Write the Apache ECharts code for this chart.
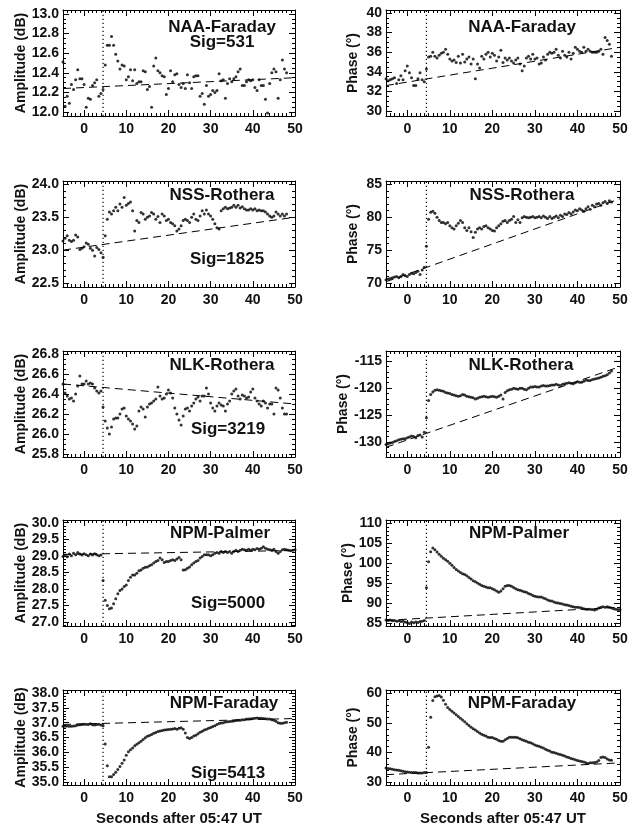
<!DOCTYPE html>
<html>
<head>
<meta charset="utf-8">
<script src="https://cdn.jsdelivr.net/npm/echarts@6/dist/echarts.min.js"></script>
<style>
  html, body { margin: 0; background: #fff; }
  #chart { width: 638px; height: 827px; }
</style>
</head>
<body>
<div id="chart"></div>
<script>
// sample times (s after 05:47 UT), one row = 5 s
const secs = [
  -5, -4.5, -4, -3.5, -3, -2.5, -2, -1.5, -1, -0.5,
  0, 0.5, 1, 1.5, 2, 2.5, 3, 3.5, 4, 4.5,
  5, 5.5, 6, 6.5, 7, 7.5, 8, 8.5, 9, 9.5,
  10, 10.5, 11, 11.5, 12, 12.5, 13, 13.5, 14, 14.5,
  15, 15.5, 16, 16.5, 17, 17.5, 18, 18.5, 19, 19.5,
  20, 20.5, 21, 21.5, 22, 22.5, 23, 23.5, 24, 24.5,
  25, 25.5, 26, 26.5, 27, 27.5, 28, 28.5, 29, 29.5,
  30, 30.5, 31, 31.5, 32, 32.5, 33, 33.5, 34, 34.5,
  35, 35.5, 36, 36.5, 37, 37.5, 38, 38.5, 39, 39.5,
  40, 40.5, 41, 41.5, 42, 42.5, 43, 43.5, 44, 44.5,
  45, 45.5, 46, 46.5, 47, 47.5, 48, 48.5, 49, 49.5,
  50
];

const naaAmp = [
  12.51, 12.06, 12.16, 12.09, 12.28, 12.23, 12.33, 12.43, 12.34, 12.34,
  12.28, 12.05, 12.14, 12.13, 12.27, 12.30, 12.33, 12.16, 12.19, 12.23,
  12.48, 12.68, 12.68, 12.77, 12.68, 12.59, 12.52, 12.44, 12.48, 12.47,
  12.33, 12.36, 12.43, 12.32, 12.43, 12.29, 12.31, 12.31, 12.42, 12.41,
  12.23, 12.26, 12.05, 12.47, 12.55, 12.42, 12.40, 12.37, 12.36, 12.18,
  12.24, 12.42, 12.31, 12.38, 12.39, 12.28, 12.25, 12.29, 12.24, 12.38,
  12.30, 12.24, 12.36, 12.37, 12.37, 12.16, 12.19, 12.08, 12.27, 12.16,
  12.18, 12.22, 12.20, 12.22, 12.39, 12.32, 12.33, 12.14, 12.29, 12.34,
  12.31, 12.34, 12.36, 12.41, 12.44, 12.27, 12.27, 12.31, 12.33, 12.32,
  12.33, 12.25, 12.22, 12.33, 12.27, 12.27, 12.13, 11.99, 12.29, 12.40,
  12.44, 12.41, 12.14, 12.33, 12.53, 12.44, 12.40, null, null, null,
  null
];
const naaPhase = [
  33.3, 33.1, 33.2, 33.3, 33.4, 32.8, 33.2, 33.6, 33.2, 34.1,
  34.6, 33.9, 33.4, 32.6, 32.6, 33.3, 33.9, 33.2, 33.0, 34.3,
  35.5, 35.6, 36.0, 35.6, 35.4, 35.7, 35.9, 36.0, 36.3, 35.8,
  35.3, 35.1, 35.2, 34.95, 35.6, 34.9, 35.8, 35.0, 35.3, 35.5,
  34.8, 35.3, 33.3, 34.8, 34.4, 35.6, 35.3, 35.8, 36.0, 35.5,
  35.9, 35.7, 35.1, 35.5, 36.2, 34.95, 35.4, 35.2, 35.4, 35.1,
  34.9, 35.2, 35.4, 34.8, 34.1, 34.6, 35.4, 35.6, 35.3, 35.8,
  35.3, 35.4, 34.8, 34.9, 35.5, 35.2, 35.8, 36.0, 35.9, 36.0,
  36.3, 35.7, 35.4, 36.1, 35.7, 35.5, 36.0, 35.3, 35.9, 36.5,
  36.3, 36.1, 36.0, 36.5, 36.1, 36.3, 36.1, 36.0, 36.0, 36.0,
  36.1, 36.3, 35.8, 37.5, 37.2, 36.8, 35.6, null, null, null,
  null
];
const nssAmp = [
  23.14, 23.18, 23.22, 23.15, 23.13, 23.15, 23.23, 23.20, 23.01, 23.03,
  23.05, 23.11, 23.09, 23.03, 23.00, 22.91, 23.04, 23.01, 22.96, 22.89,
  23.22, 23.47, 23.58, 23.55, 23.60, 23.65, 23.60, 23.70, 23.65, 23.80,
  23.68, 23.71, 23.73, 23.60, 23.29, 23.45, 23.42, 23.57, 23.55, 23.47,
  23.50, 23.52, 23.57, 23.55, 23.47, 23.51, 23.42, 23.55, 23.52, 23.45,
  23.47, 23.42, 23.40, 23.37, 23.29, 23.32, 23.37, 23.45, 23.47, 23.45,
  23.42, 23.50, 23.55, 23.47, 23.45, 23.52, 23.60, 23.55, 23.61, 23.55,
  23.52, 23.47, 23.40, 23.34, 23.32, 23.60, 23.63, 23.65, 23.63, 23.64,
  23.65, 23.68, 23.65, 23.68, 23.64, 23.66, 23.63, 23.61, 23.61, 23.63,
  23.61, 23.63, 23.60, 23.61, 23.60, 23.60, 23.58, 23.55, 23.52, 23.50,
  23.52, 23.58, 23.55, 23.52, 23.55, 23.52, 23.55, null, null, null,
  null
];
const nssPhase = [
  70.5, 70.6, 70.7, 70.8, 70.9, 71.0, 70.8, 71.0, 71.3, 71.1,
  71.0, 71.3, 71.5, 71.4, 71.6, 71.8, 71.3, 72.0, 72.4, 75.6,
  79.7, 80.75, 80.9, 80.6, 80.0, 79.5, 79.2, 79.2, 79.0, 79.2,
  78.7, 78.4, 78.2, 78.7, 79.1, 79.5, 79.2, 78.4, 78.0, 78.4,
  77.8, 76.9, 77.7, 78.2, 78.4, 78.2, 78.6, 78.7, 78.4, 78.2,
  78.0, 77.9, 78.4, 78.7, 79.0, 79.4, 79.5, 79.2, 79.5, 79.7,
  80.1, 79.2, 79.6, 79.2, 79.9, 80.1, 80.0, 79.9, 80.0, 80.1,
  79.9, 80.0, 80.1, 79.9, 80.2, 80.0, 79.8, 80.1, 79.8, 80.0,
  80.2, 79.9, 80.3, 80.1, 80.5, 80.4, 80.7, 80.5, 80.8, 81.1,
  81.0, 81.3, 81.1, 80.9, 81.3, 81.6, 81.2, 81.8, 81.6, 82.0,
  82.1, 81.8, 82.2, 82.4, 82.1, 82.5, 82.3, null, null, null,
  null
];
const nlkAmp = [
  26.50, 26.41, 26.38, 26.35, 26.36, 26.33, 26.40, 26.48, 26.58, 26.50,
  26.50, 26.53, 26.50, 26.51, 26.50, 26.46, 26.43, 26.41, 26.43, 26.27,
  26.13, 26.06, 26.00, 26.07, 26.15, 26.16, 26.16, 26.20, 26.25, 26.26,
  26.18, 26.15, 26.13, 26.10, 26.05, 26.08, 26.23, 26.27, 26.25, 26.17,
  26.27, 26.30, 26.31, 26.33, 26.35, 26.47, 26.38, 26.35, 26.36, 26.40,
  26.44, 26.41, 26.36, 26.26, 26.20, 26.14, 26.09, 26.18, 26.25, 26.26,
  26.23, 26.28, 26.31, 26.35, 26.37, 26.33, 26.38, 26.38, 26.46, 26.40,
  26.31, 26.26, 26.23, 26.28, 26.31, 26.29, 26.28, 26.23, 26.30, 26.33,
  26.40, 26.43, 26.45, 26.38, 26.35, 26.39, 26.38, 26.36, 26.37, 26.42,
  26.45, 26.36, 26.33, 26.30, 26.28, 26.33, 26.31, 26.26, 26.30, 26.30,
  26.20, 26.46, 26.44, 26.36, 26.26, 26.20, 26.20, null, null, null,
  null
];
const nlkPhase = [
  -130.5, -130.4, -130.2, -130.1, -129.9, -129.8, -129.6, -129.5, -129.4, -129.4,
  -129.2, -129.1, -128.9, -129.0, -129.2, -128.8, -128.7, -129.1, -128.2, -125.5,
  -122.3, -121.2, -120.7, -120.4, -120.3, -120.4, -120.5, -120.6, -120.8, -120.9,
  -121.0, -121.2, -121.3, -121.4, -121.5, -121.4, -121.2, -121.3, -121.5, -121.6,
  -121.7, -121.8, -122.0, -121.9, -121.7, -121.6, -121.5, -121.6, -121.7, -121.6,
  -121.5, -121.6, -121.7, -121.5, -121.3, -122.0, -120.8, -120.5, -120.3, -120.2,
  -120.0, -120.1, -120.2, -120.0, -120.0, -120.2, -120.3, -120.0, -119.8, -119.8,
  -119.7, -119.8, -119.8, -119.6, -119.5, -119.6, -119.6, -119.5, -119.4, -119.4,
  -119.3, -119.4, -119.5, -119.3, -119.2, -119.1, -119.0, -119.1, -119.2, -119.0,
  -118.8, -118.9, -118.9, -118.7, -118.5, -118.6, -118.6, -118.4, -118.3, -118.2,
  -118.1, -118.0, -117.8, -117.7, -117.5, -117.2, -116.8, null, null, null,
  null
];
const npmPalAmp = [
  28.98, 29.02, 28.97, 29.05, 29.00, 29.08, 29.03, 29.10, 29.05, 29.02,
  29.06, 29.03, 29.00, 29.05, 29.02, 29.06, 29.03, 29.00, 29.02, 28.25,
  27.66, 27.50, 27.40, 27.42, 27.55, 27.70, 27.85, 27.95, 28.00, 28.07,
  28.12, 28.25, 28.35, 28.42, 28.42, 28.47, 28.55, 28.57, 28.62, 28.65,
  28.66, 28.70, 28.73, 28.78, 28.83, 28.86, 28.93, 28.88, 28.80, 28.83,
  28.83, 28.86, 28.88, 28.86, 28.90, 28.95, 28.88, 28.57, 28.58, 28.62,
  28.66, 28.73, 28.78, 28.83, 28.86, 28.93, 28.98, 29.03, 29.03, 29.03,
  29.00, 29.03, 29.08, 29.10, 29.08, 29.13, 29.10, 29.13, 29.10, 29.13,
  29.08, 29.13, 29.17, 29.13, 29.17, 29.20, 29.18, 29.17, 29.20, 29.17,
  29.20, 29.18, 29.22, 29.20, 29.23, 29.27, 29.23, 29.20, 29.18, 29.17,
  29.20, 29.13, 29.08, 29.13, 29.18, 29.20, 29.18, 29.17, 29.15, 29.17,
  29.18
];
const npmPalPhase = [
  85.8, 85.7, 85.8, 85.6, 85.7, 85.5, 85.6, 85.4, 85.5, 85.3,
  85.2, 84.9, 85.3, 85.1, 85.3, 85.2, 85.4, 85.5, 85.7, 93.8,
  100.3, 102.8, 103.7, 103.3, 102.7, 102.2, 101.7, 101.2, 100.8, 100.4,
  99.9, 99.4, 98.9, 98.4, 98.0, 97.6, 97.3, 97.1, 96.8, 96.4,
  96.0, 95.6, 95.3, 95.0, 94.7, 94.4, 94.2, 94.0, 93.8, 93.8,
  93.6, 93.3, 93.0, 92.7, 93.0, 93.6, 94.2, 94.4, 94.4, 94.2,
  93.9, 93.6, 93.3, 93.2, 93.0, 92.8, 92.7, 92.4, 92.2, 91.9,
  91.7, 91.6, 91.5, 91.5, 91.3, 91.1, 90.8, 90.6, 90.5, 90.3,
  90.1, 90.0, 89.9, 89.8, 89.6, 89.5, 89.4, 89.2, 89.1, 89.0,
  89.0, 88.9, 88.8, 88.6, 88.5, 88.5, 88.5, 88.4, 88.3, 88.5,
  88.8, 89.0, 89.1, 89.0, 89.1, 89.0, 88.8, 88.6, 88.5, 88.4,
  88.4
];
const npmFarAmp = [
  36.88, 36.88, 36.89, 36.88, 36.88, 36.89, 36.90, 36.92, 36.93, 36.94,
  36.95, 36.95, 36.94, 36.96, 36.93, 36.92, 36.94, 36.95, 36.92, 36.90,
  36.28, 35.55, 35.18, 35.18, 35.25, 35.33, 35.42, 35.52, 35.63, 35.74,
  35.90, 36.02, 36.09, 36.15, 36.22, 36.27, 36.32, 36.37, 36.43, 36.49,
  36.54, 36.57, 36.60, 36.64, 36.67, 36.70, 36.72, 36.74, 36.75, 36.76,
  36.77, 36.78, 36.79, 36.80, 36.78, 36.81, 36.83, 36.78, 36.65, 36.50,
  36.47, 36.50, 36.55, 36.58, 36.63, 36.68, 36.71, 36.75, 36.78, 36.81,
  36.84, 36.87, 36.90, 36.94, 36.97, 36.99, 37.00, 37.02, 37.03, 37.04,
  37.05, 37.06, 37.07, 37.08, 37.08, 37.10, 37.10, 37.12, 37.12, 37.13,
  37.14, 37.15, 37.16, 37.15, 37.15, 37.14, 37.13, 37.12, 37.12, 37.10,
  37.08, 37.05, 37.00, 36.98, 36.98, 37.00, 37.01, null, null, null,
  null
];
const npmFarPhase = [
  34.8, 34.6, 34.5, 34.3, 34.2, 34.1, 34.0, 33.8, 33.7, 33.5,
  33.4, 33.3, 33.2, 33.2, 33.2, 33.1, 33.1, 33.1, 33.2, 33.2,
  41.8, 52.0, 57.6, 58.9, 59.2, 59.3, 58.8, 57.7, 56.4, 55.3,
  54.6, 54.0, 53.4, 52.8, 52.2, 51.6, 51.0, 50.4, 49.8, 49.2,
  48.6, 48.1, 47.6, 47.1, 46.6, 46.2, 45.9, 45.6, 45.2, 45.1,
  45.1, 44.8, 44.5, 44.1, 43.8, 43.8, 44.3, 44.8, 45.2, 45.2,
  45.2, 45.2, 45.0, 44.7, 44.3, 44.1, 43.8, 43.5, 43.3, 43.0,
  42.6, 42.3, 42.1, 41.8, 41.5, 41.1, 40.8, 40.5, 40.1, 40.0,
  39.8, 39.5, 39.3, 39.1, 38.8, 38.5, 38.3, 38.0, 37.8, 37.6,
  37.3, 37.1, 37.0, 36.8, 36.5, 36.3, 36.5, 36.5, 36.6, 36.8,
  37.3, 38.3, 38.5, 38.3, 37.8, 37.5, 37.4, null, null, null,
  null
];

// baseline fits, value at t = -5 and t = 50
const fitSecs = [-5, 50];
const naaAmpFit = [12.24, 12.35];
const naaPhaseFit = [32.6, 36.5];
const nssAmpFit = [23.0, 23.5];
const nssPhaseFit = [70.2, 82.8];
const nlkAmpFit = [26.5, 26.3];
const nlkPhaseFit = [-131.0, -116.0];
const npmPalAmpFit = [29.04, 29.16];
const npmPalPhaseFit = [85.7, 89.0];
const npmFarAmpFit = [36.94, 37.14];
const npmFarPhaseFit = [32.5, 36.5];

const onsetSec = 4.5;

// tick labels
const xTicks = [0, 10, 20, 30, 40, 50];
const naaAmpTicks = [12.0, 12.2, 12.4, 12.6, 12.8, 13.0];
const naaPhaseTicks = [30, 32, 34, 36, 38, 40];
const nssAmpTicks = [22.5, 23.0, 23.5, 24.0];
const nssPhaseTicks = [70, 75, 80, 85];
const nlkAmpTicks = [25.8, 26.0, 26.2, 26.4, 26.6, 26.8];
const nlkPhaseTicks = [-130, -125, -120, -115];
const npmPalAmpTicks = [27.0, 27.5, 28.0, 28.5, 29.0, 29.5, 30.0];
const npmPalPhaseTicks = [85, 90, 95, 100, 105, 110];
const npmFarAmpTicks = [35.0, 35.5, 36.0, 36.5, 37.0, 37.5, 38.0];
const npmFarPhaseTicks = [30, 40, 50, 60];

const FONT = '"Liberation Sans", Arial, Helvetica, sans-serif';
const INK = '#111';

const panels = [
  { row: 0, col: 0, values: naaAmp, fit: naaAmpFit, ticks: naaAmpTicks, yMin: 11.96, yMax: 13.04, minor: 0.05, digits: 1,
    title: 'NAA-Faraday', tx: 222, ty: 27, sig: 'Sig=531', sx: 222, sy: 42 },
  { row: 0, col: 1, values: naaPhase, fit: naaPhaseFit, ticks: naaPhaseTicks, yMin: 29.5, yMax: 40.3, minor: 0.5, digits: 0,
    title: 'NAA-Faraday', tx: 522, ty: 27 },
  { row: 1, col: 0, values: nssAmp, fit: nssAmpFit, ticks: nssAmpTicks, yMin: 22.44, yMax: 24.05, minor: 0.1, digits: 1,
    title: 'NSS-Rothera', tx: 222, ty: 195, sig: 'Sig=1825', sx: 227, sy: 259 },
  { row: 1, col: 1, values: nssPhase, fit: nssPhaseFit, ticks: nssPhaseTicks, yMin: 69.4, yMax: 85.5, minor: 1, digits: 0,
    title: 'NSS-Rothera', tx: 522, ty: 195 },
  { row: 2, col: 0, values: nlkAmp, fit: nlkAmpFit, ticks: nlkAmpTicks, yMin: 25.77, yMax: 26.83, minor: 0.05, digits: 1,
    title: 'NLK-Rothera', tx: 222, ty: 365, sig: 'Sig=3219', sx: 228, sy: 429 },
  { row: 2, col: 1, values: nlkPhase, fit: nlkPhaseFit, ticks: nlkPhaseTicks, yMin: -132.8, yMax: -113.1, minor: 1, digits: 0,
    title: 'NLK-Rothera', tx: 521, ty: 365 },
  { row: 3, col: 0, values: npmPalAmp, fit: npmPalAmpFit, ticks: npmPalAmpTicks, yMin: 26.88, yMax: 30.08, minor: 0.1, digits: 1,
    title: 'NPM-Palmer', tx: 220, ty: 533, sig: 'Sig=5000', sx: 228, sy: 603 },
  { row: 3, col: 1, values: npmPalPhase, fit: npmPalPhaseFit, ticks: npmPalPhaseTicks, yMin: 84.3, yMax: 110.7, minor: 1, digits: 0,
    title: 'NPM-Palmer', tx: 519, ty: 533 },
  { row: 4, col: 0, values: npmFarAmp, fit: npmFarAmpFit, ticks: npmFarAmpTicks, yMin: 34.9, yMax: 38.1, minor: 0.1, digits: 1,
    title: 'NPM-Faraday', tx: 224, ty: 703, sig: 'Sig=5413', sx: 228, sy: 773 },
  { row: 4, col: 1, values: npmFarPhase, fit: npmFarPhaseFit, ticks: npmFarPhaseTicks, yMin: 29.0, yMax: 61.2, minor: 2, digits: 0,
    title: 'NPM-Faraday', tx: 522, ty: 703 }
];

const gridLeft = [63, 386];
const gridWidth = [232, 234];
const gridTop = [10, 181, 351, 520, 690];
const gridHeight = 106;

function steps(lo, hi, step) {
  const out = [];
  for (let k = Math.ceil(lo / step - 1e-9); k * step <= hi + 1e-9; k++) {
    out.push(Math.round(k * step * 1000) / 1000);
  }
  return out;
}
const xMinor = steps(-5, 50, 1);

const grids = [], xAxes = [], yAxes = [], series = [], graphics = [];
const lineBox = { show: true, onZero: false, lineStyle: { color: '#000', width: 1 } };
const noLine = { show: false, onZero: false };
const label = { fontSize: 14, fontWeight: 'bold', color: INK, fontFamily: FONT };

panels.forEach((p, i) => {
  grids.push({ left: gridLeft[p.col], top: gridTop[p.row], width: gridWidth[p.col], height: gridHeight });
  const last = p.row === 4;

  const xBase = { gridIndex: i, type: 'value', min: -5, max: 50, splitLine: { show: false } };
  xAxes.push(Object.assign({}, xBase, {
    position: 'bottom', axisLine: lineBox,
    axisTick: { inside: true, length: 6, customValues: xTicks, lineStyle: { color: '#000' } },
    axisLabel: Object.assign({ customValues: xTicks, margin: 6 }, label),
    name: last ? 'Seconds after 05:47 UT' : '', nameLocation: 'middle', nameGap: 26,
    nameTextStyle: { fontSize: 15, fontWeight: 'bold', color: INK, fontFamily: FONT }
  }));
  xAxes.push(Object.assign({}, xBase, {
    position: 'top', axisLine: lineBox,
    axisTick: { inside: true, length: 6, customValues: xTicks, lineStyle: { color: '#000' } },
    axisLabel: { show: false }
  }));
  ['bottom', 'top'].forEach(pos => xAxes.push(Object.assign({}, xBase, {
    position: pos, axisLine: noLine,
    axisTick: { inside: true, length: 3, customValues: xMinor, lineStyle: { color: '#000' } },
    axisLabel: { show: false }
  })));

  const yMinor = steps(p.yMin, p.yMax, p.minor);
  const yBase = { gridIndex: i, type: 'value', min: p.yMin, max: p.yMax, splitLine: { show: false } };
  yAxes.push(Object.assign({}, yBase, {
    position: 'left', axisLine: lineBox,
    axisTick: { inside: true, length: 6, customValues: p.ticks, lineStyle: { color: '#000' } },
    axisLabel: Object.assign({ customValues: p.ticks, margin: 4, formatter: v => Number(v).toFixed(p.digits) }, label),
    name: p.col === 0 ? 'Amplitude (dB)' : 'Phase (°)', nameLocation: 'middle',
    nameGap: p.col === 0 ? 34 : 26,
    nameTextStyle: { fontSize: 14, fontWeight: 'bold', color: INK, fontFamily: FONT }
  }));
  yAxes.push(Object.assign({}, yBase, {
    position: 'right', axisLine: lineBox,
    axisTick: { inside: true, length: 6, customValues: p.ticks, lineStyle: { color: '#000' } },
    axisLabel: { show: false }
  }));
  ['left', 'right'].forEach(pos => yAxes.push(Object.assign({}, yBase, {
    position: pos, axisLine: noLine,
    axisTick: { inside: true, length: 3, customValues: yMinor, lineStyle: { color: '#000' } },
    axisLabel: { show: false }
  })));

  const xi = i * 4, yi = i * 4;
  series.push({
    type: 'scatter', xAxisIndex: xi, yAxisIndex: yi, symbolSize: 3,
    itemStyle: { color: '#000' }, silent: true,
    data: secs.map((t, k) => [t, p.values[k]]).filter(d => d[1] != null)
  });
  series.push({
    type: 'line', xAxisIndex: xi, yAxisIndex: yi, symbol: 'none', silent: true,
    lineStyle: { color: '#000', width: 1, type: [8, 5] },
    data: fitSecs.map((t, k) => [t, p.fit[k]])
  });
  series.push({
    type: 'line', xAxisIndex: xi, yAxisIndex: yi, symbol: 'none', silent: true,
    lineStyle: { color: '#000', width: 1.2, type: [1.2, 2.8] },
    data: [[onsetSec, p.yMin], [onsetSec, p.yMax]]
  });

  const tstyle = (text, x, y) => ({
    type: 'text', x: x, y: y, silent: true,
    style: { text: text, fill: INK, font: 'bold 17px ' + FONT,
      textAlign: 'center', textVerticalAlign: 'middle', align: 'center', verticalAlign: 'middle' }
  });
  graphics.push(tstyle(p.title, p.tx, p.ty));
  if (p.sig) graphics.push(tstyle(p.sig, p.sx, p.sy));
});

const chart = echarts.init(document.getElementById('chart'), null, { renderer: 'canvas' });
chart.setOption({
  animation: false,
  backgroundColor: '#fff',
  grid: grids,
  xAxis: xAxes,
  yAxis: yAxes,
  series: series,
  graphic: graphics
});
</script>
</body>
</html>
